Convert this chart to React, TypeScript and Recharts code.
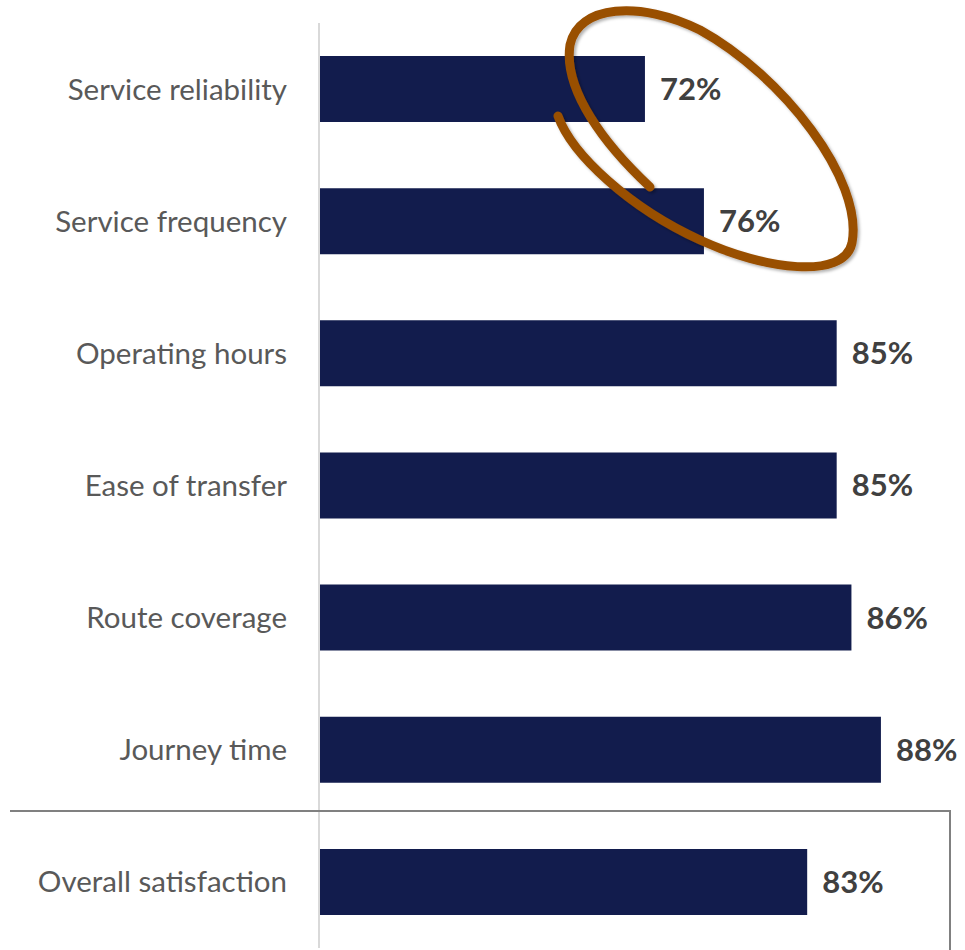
import React from 'react';
import { BarChart, Bar, XAxis, YAxis, LabelList } from 'recharts';

// --- Data ---

const categories = [
  'Service reliability',
  'Service frequency',
  'Operating hours',
  'Ease of transfer',
  'Route coverage',
  'Journey time',
  'Overall satisfaction',
];

const satisfaction = [72, 76, 85, 85, 86, 88, 83];

const data = categories.map((name, i) => ({ name, value: satisfaction[i] }));

const BAR_COLOR = '#121c4d';
const RING_COLOR = '#994f05';

const App: React.FC = () => {
  return (
    <div style={{ position: 'absolute', left: 0, top: 0, width: 965, height: 950, background: '#fff' }}>
      <BarChart
        width={965}
        height={950}
        layout="vertical"
        data={data}
        margin={{ top: 23, right: 0, left: 0, bottom: 2 }}
        barCategoryGap="25%"
      >
        <XAxis type="number" domain={[49.9, 93.7]} allowDataOverflow hide />
        <YAxis
          dataKey="name"
          type="category"
          width={319}
          axisLine={{ stroke: '#d9d9d9', strokeWidth: 2 }}
          tickLine={false}
          tickSize={6}
          tickMargin={26}
          interval={0}
          tick={{ fill: '#595959', fontSize: 29.5, fontFamily: 'Lato, sans-serif' }}
        />
        <Bar dataKey="value" fill={BAR_COLOR} isAnimationActive={false}>
          <LabelList
            dataKey="value"
            position="right"
            offset={15}
            formatter={(v: number) => `${v}%`}
            style={{ fill: '#404040', fontSize: 31, fontWeight: 700, fontFamily: 'Lato, sans-serif' }}
          />
        </Bar>
      </BarChart>

      {/* annotation overlay: box around overall + hand-drawn ring */}
      <svg width={965} height={950} style={{ position: 'absolute', left: 0, top: 0, pointerEvents: 'none' }}>
        <polyline points="10,811 950,811 950,950" fill="none" stroke="#808080" strokeWidth={2} />
        <defs>
          <filter id="ringShadow" x="-10%" y="-10%" width="120%" height="120%">
            <feDropShadow dx="2" dy="2" stdDeviation="1.5" floodColor="#000" floodOpacity="0.3" />
          </filter>
        </defs>
        <path
          d="M 650 187 C 605 145, 563 90, 570 45 C 578 5, 640 0, 700 30 C 782 75, 864 180, 852 243 C 844 280, 765 270, 700 240 C 630 208, 572 155, 558 116"
          fill="none"
          stroke={RING_COLOR}
          strokeWidth={9}
          strokeLinecap="round"
          filter="url(#ringShadow)"
        />
      </svg>
    </div>
  );
};

export default App;
